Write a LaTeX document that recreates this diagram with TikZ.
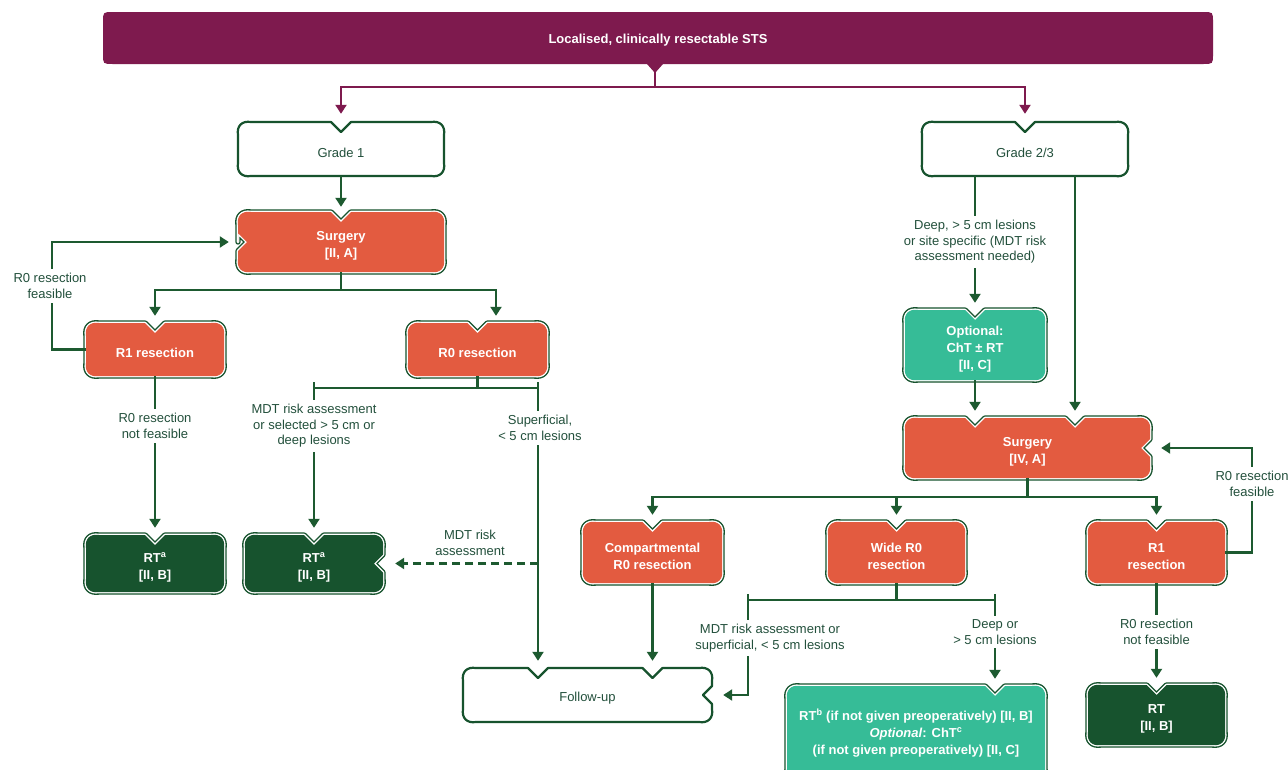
\documentclass[tikz,border=0pt]{standalone}
\usepackage{fontspec}
\setmainfont{Liberation Sans}
\usetikzlibrary{arrows.meta,calc}
\definecolor{purp}{HTML}{7E1A4E}
\definecolor{dgreen}{HTML}{17532E}
\definecolor{lgreen}{HTML}{1D5A30}
\definecolor{orng}{HTML}{E35B40}
\definecolor{tealc}{HTML}{36BC97}
\definecolor{txtc}{HTML}{23503C}

\newcommand\rnotch[2]{-- (#1,#2-9) -- (#1-9,#2) -- (#1,#2+9)}
\newcommand\lnotch[2]{-- (#1,#2+9) -- (#1+9,#2) -- (#1,#2-9)}

% #1 name, #2 x1, #3 y1, #4 x2, #5 y2, #6 style, #7 top notches, #8 right part, #9 left part
\newcommand\nbox[9]{%
  \path[#6] (#2,{(#3+#5)/2}) -- (#2,#3+13) .. controls (#2-1.5,#3+4) and (#2+4,#3-1.5) .. (#2+13,#3)
    foreach \nx in {#7} { -- (\nx-10,#3) -- (\nx,#3+10) -- (\nx+10,#3) }
    -- (#4-13,#3) .. controls (#4-4,#3-1.5) and (#4+1.5,#3+4) .. (#4,#3+13) #8
    -- (#4,#5-13) .. controls (#4+1.5,#5-4) and (#4-4,#5+1.5) .. (#4-13,#5)
    -- (#2+13,#5) .. controls (#2+4,#5+1.5) and (#2-1.5,#5-4) .. (#2,#5-13) #9 -- cycle;
  \node[inner sep=0pt,minimum width={#4-#2},minimum height={#5-#3}] (#1) at ({(#2+#4)/2},{(#3+#5)/2}) {};
}

\tikzset{
  wbox/.style={draw=dgreen, line width=2.2pt, fill=white, line join=round},
  dblbox/.style={preaction={draw=dgreen,line width=5.4pt,line join=round},
                 preaction={draw=white,line width=2.6pt,line join=round}, fill=#1},
  obox/.style={dblbox=orng},
  gbox/.style={dblbox=dgreen},
  tbox/.style={dblbox=tealc},
  btxt/.style={text=white, font=\bfseries\fontsize{13}{17}\selectfont, align=center},
  wtxt/.style={text=txtc, font=\fontsize{13}{17}\selectfont, align=center},
  lab/.style={fill=white, text=txtc, align=center, font=\fontsize{13}{15.5}\selectfont, inner sep=4pt},
  conn/.style={draw=lgreen, line width=2.2pt},
  arr/.style={conn, -{Triangle[width=11pt,length=9pt]}},
  pconn/.style={draw=purp, line width=2.4pt},
  parr/.style={pconn, -{Triangle[width=11pt,length=9pt]}},
}

\begin{document}
\begin{tikzpicture}[x=1pt,y=-1pt]
\useasboundingbox (0,0) rectangle (1288,769);
\fill[white] (0,0) rectangle (1288,769);

% top bar
\path[fill=purp] (103,38) -- (103,22) .. controls (103,12) .. (113,12) -- (1203,12)
  .. controls (1213,12) .. (1213,22) -- (1213,54) .. controls (1213,64) .. (1203,64)
  -- (663,64) -- (655,73) -- (647,64) -- (113,64) .. controls (103,64) .. (103,54) -- cycle;
\node[btxt, minimum width=1110, minimum height=52, inner sep=0pt] (top) at (658,38) {};
\node[btxt] at ([yshift=-2pt]top.center) {Localised, clinically resectable STS};
\coordinate (tab) at (655,72);

% boxes
\nbox{g1}{238}{122}{444}{176}{wbox}{341}{}{}
\node[wtxt] at ([yshift=-4pt]g1.center) {Grade 1};
\nbox{g23}{922}{122}{1128}{176}{wbox}{1025}{}{}
\node[wtxt] at ([yshift=-4pt]g23.center) {Grade 2/3};

\nbox{s1}{238}{212}{444}{272}{obox}{341}{}{\lnotch{238}{242}}
\node[btxt] at ([yshift=-4pt]s1.center) {Surgery\\{}[II, A]};

\nbox{r1}{86}{323}{224}{376}{obox}{155}{}{}
\node[btxt] at ([yshift=-3pt]r1.center) {R1 resection};
\nbox{r0}{408}{323}{547}{376}{obox}{477.5}{}{}
\node[btxt] at ([yshift=-3pt]r0.center) {R0 resection};

\nbox{rt1}{86}{535}{224}{592}{gbox}{155}{}{}
\node[btxt] at ([yshift=-4pt]rt1.center) {RT\textsuperscript{a}\\{}[II, B]};
\nbox{rt2}{245}{535}{383}{592}{gbox}{314}{\rnotch{383}{563.5}}{}
\node[btxt] at ([yshift=-4pt]rt2.center) {RT\textsuperscript{a}\\{}[II, B]};

\nbox{fu}{463}{668}{712}{722}{wbox}{538,652.5}{\rnotch{712}{695}}{}
\node[wtxt] at ([yshift=-3pt]fu.center) {Follow-up};

\nbox{opt}{905}{310}{1045}{380}{tbox}{975}{}{}
\node[btxt] at ([yshift=-4pt]opt.center) {Optional:\\ChT ± RT\\{}[II, C]};

\nbox{s2}{905}{418}{1150}{478}{obox}{975,1075}{\rnotch{1150}{448}}{}
\node[btxt] at ([yshift=-4pt]s2.center) {Surgery\\{}[IV, A]};

\nbox{cr}{583}{522}{722}{583}{obox}{652.5}{}{}
\node[btxt] at ([yshift=-4pt]cr.center) {Compartmental\\R0 resection};
\nbox{wr}{828}{522}{965}{583}{obox}{896.5}{}{}
\node[btxt] at ([yshift=-4pt]wr.center) {Wide R0\\resection};
\nbox{r1r}{1088}{522}{1225}{583}{obox}{1156.5}{}{}
\node[btxt] at ([yshift=-4pt]r1r.center) {R1\\resection};

\nbox{rtc}{787}{686}{1045}{782}{tbox}{995}{}{}
\node[btxt] at (916,733) {RT\textsuperscript{b} (if not given preoperatively) [II, B]\\\textit{Optional}: ChT\textsuperscript{c}\\(if not given preoperatively) [II, C]};
\nbox{rtr}{1088}{685}{1225}{745}{gbox}{1156.5}{}{}
\node[btxt] at ([yshift=-4pt]rtr.center) {RT\\{}[II, B]};

% purple connectors
\draw[pconn] (tab) -- (655,87);
\draw[parr] (655,87) -| ([yshift=8pt]g1.north);
\draw[parr] (655,87) -| ([yshift=8pt]g23.north);

% left branch
\draw[arr] (g1.south) -- ([yshift=5pt]s1.north);
\coordinate (sp1) at (341,290);
\draw[conn] (s1.south) -- (sp1);
\draw[arr] (sp1) -| ([yshift=7pt]r1.north);
\draw[arr] (sp1) -| ([xshift=18.5pt,yshift=7pt]r0.north);

\draw[arr] (r1.west) -- (52,349.5) -- (52,242) -- ([xshift=-9pt]s1.west);
\node[lab] at (50,286) {R0 resection\\feasible};

\draw[arr] (r1.south) -- ([yshift=7pt]rt1.north);
\node[lab] at (155,426) {R0 resection\\not feasible};

\coordinate (sp2) at (477.5,388);
\draw[conn] (r0.south) -- (sp2);
\draw[conn] (314,388) -- (538,388);
\draw[conn] (314,382) -- (314,388);
\draw[conn] (538,382) -- (538,388);
\draw[arr] (314,388) -- ([yshift=7pt]rt2.north);
\node[lab] at (314,426) {MDT risk assessment\\or selected > 5 cm or\\deep lesions};
\draw[arr] (538,388) -- ([xshift=-49.5pt,yshift=7pt]fu.north);
\node[lab] at (540,428) {Superficial,\\< 5 cm lesions};
\coordinate (dsh) at (538,563.5);
\draw[arr, dash pattern=on 8pt off 5pt] (dsh) -- ([xshift=12pt]rt2.east);
\node[lab, fill=none] at (470,543) {MDT risk\\assessment};

% right branch
\draw[arr] ([xshift=-50pt]g23.south) -- ([yshift=7pt]opt.north);
\node[lab] at (975,242) {Deep, > 5 cm lesions\\or site specific (MDT risk\\assessment needed)};
\draw[arr] ([xshift=50pt]g23.south) -- ([xshift=47.5pt,yshift=7pt]s2.north);
\draw[arr] (opt.south) -- ([xshift=-52.5pt,yshift=7pt]s2.north);

\coordinate (sp3) at (1027.5,497);
\draw[conn] (s2.south) -- (sp3);
\draw[arr] (sp3) -| ([yshift=7pt]cr.north);
\draw[arr] (sp3) -| ([yshift=7pt]wr.north);
\draw[arr] (sp3) -| ([yshift=7pt]r1r.north);

\draw[arr] (r1r.east) -- (1252,552.5) -- (1252,448) -- ([xshift=11pt]s2.east);
\node[lab] at (1252,484) {R0 resection\\feasible};

\draw[arr] (cr.south) -- ([xshift=65pt,yshift=7pt]fu.north);

\coordinate (sp4) at (896.5,600);
\draw[conn] (wr.south) -- (sp4);
\draw[conn] (748,600) -- (995,600);
\draw[conn] (748,594) -- (748,600);
\draw[conn] (995,594) -- (995,600);
\draw[arr] (748,600) -- (748,695) -- ([xshift=11pt]fu.east);
\node[lab] at (770,638) {MDT risk assessment or\\superficial, < 5 cm lesions};
\draw[arr] (995,600) -- ([xshift=79pt,yshift=7pt]rtc.north);
\node[lab] at (995,632) {Deep or\\> 5 cm lesions};

\draw[arr] (r1r.south) -- ([yshift=7pt]rtr.north);
\node[lab] at (1156.5,632) {R0 resection\\not feasible};
\end{tikzpicture}
\end{document}
